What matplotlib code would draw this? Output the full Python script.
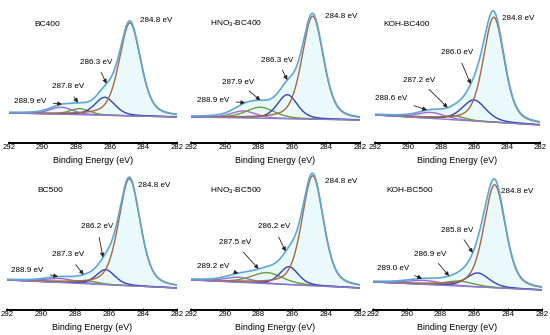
import numpy as np
import matplotlib
matplotlib.use('Agg')
import matplotlib.pyplot as plt

plt.rcParams['font.family'] = ['Liberation Sans', 'DejaVu Sans']
plt.rcParams['mathtext.default'] = 'regular'

# sample names, row by row
samples = ['BC400', 'HNO$_3$-BC400', 'KOH-BC400',
           'BC500', 'HNO$_3$-BC500', 'KOH-BC500']

# fitted C1s components: main C-C peak, then the three oxygenated ones
peak_centers = [[284.8, 286.3, 287.8, 288.9],
                [284.8, 286.3, 287.9, 288.9],
                [284.8, 286.0, 287.2, 288.6],
                [284.8, 286.2, 287.3, 288.9],
                [284.8, 286.2, 287.5, 289.2],
                [284.8, 285.8, 286.9, 289.0]]
peak_heights = [[93, 18, 6, 7],
                [103, 24, 11, 7],
                [105, 21, 4, 6],
                [107, 15, 3, 4],
                [110, 18, 11, 5],
                [103, 14, 5, 4]]
peak_fwhm = [[1.5, 1.4, 1.4, 1.6],
             [1.5, 1.4, 2.0, 1.7],
             [1.5, 1.7, 1.5, 1.9],
             [1.5, 1.3, 1.5, 2.1],
             [1.5, 1.3, 2.2, 1.9],
             [1.5, 1.6, 2.0, 2.4]]
# linear background at 292 eV and 282 eV
base_left = [30, 26, 28, 30, 30, 28]
base_right = [26, 23, 18, 22, 22, 20]

peak_labels = [['284.8 eV', '286.3 eV', '287.8 eV', '288.9 eV'],
               ['284.8 eV', '286.3 eV', '287.9 eV', '288.9 eV'],
               ['284.8 eV', '286.0 eV', '287.2 eV', '288.6 eV'],
               ['284.8 eV', '286.2 eV', '287.3 eV', '288.9 eV'],
               ['284.8 eV', '286.2 eV', '287.5 eV', '289.2 eV'],
               ['284.8 eV', '285.8 eV', '286.9 eV', '289.0 eV']]
# label anchor positions (energy, intensity) and arrow tip energies
main_label_xy = [(284.2, 122), (284.1, 126), (284.3, 125),
                 (284.3, 124), (284.1, 128), (284.4, 118)]
minor_label_xy = [[(286.8, 81), (288.5, 56), (290.75, 42)],
                  [(286.9, 83), (289.2, 61), (290.7, 43)],
                  [(287.0, 90), (289.3, 63), (291.0, 45)],
                  [(286.7, 83), (288.4, 55), (290.8, 40)],
                  [(287.1, 83), (289.4, 67), (290.7, 43)],
                  [(287.0, 80), (288.6, 56), (290.8, 42)]]
arrow_tips = [[286.2, 287.9, 288.85],
              [286.3, 287.9, 288.8],
              [286.2, 287.6, 288.85],
              [286.35, 287.5, 289.0],
              [286.4, 288.0, 289.2],
              [286.1, 287.5, 289.1]]
title_x = [290.5, 290.9, 291.5, 290.2, 290.9, 291.2]

peak_colors = ['#a8683c', '#3441c4', '#6c9c3c', '#a06cd0']
env_color = '#5fa6d8'
base_color = '#8c7cc4'

energy = np.linspace(292, 282, 600)


def peak(x, c, h, w, eta=0.4):
    # gaussian-lorentzian mix
    g = np.exp(-4 * np.log(2) * (x - c) ** 2 / w ** 2)
    lo = 1.0 / (1 + 4 * (x - c) ** 2 / w ** 2)
    return h * ((1 - eta) * g + eta * lo)


fig = plt.figure(figsize=(5.5, 3.35), dpi=100)
W, H = 550.0, 335.0
# axes pixel boxes: left, right, top, bottom
boxes = [(9, 177, 0, 143), (191, 360, 0, 143), (375, 540, 0, 143),
         (7, 177, 167, 310), (191, 360, 167, 310), (373, 542, 167, 310)]

for i in range(6):
    l, r, t, b = boxes[i]
    ax = fig.add_axes([l / W, 1 - b / H, (r - l) / W, (b - t) / H])
    bg = base_left[i] + (base_right[i] - base_left[i]) * (292 - energy) / 10.0
    comps = [peak(energy, c, h, w) for c, h, w in
             zip(peak_centers[i], peak_heights[i], peak_fwhm[i])]
    env = bg + sum(comps)
    ax.fill_between(energy, bg, env, color='#d2f3f8', alpha=0.45, lw=0)
    for k in [3, 2, 1, 0]:
        ax.plot(energy, bg + comps[k], color=peak_colors[k], lw=1.0)
    ax.plot(energy, bg, color=base_color, lw=1.0)
    ax.plot(energy, env, color=env_color, lw=1.2)

    ax.text(title_x[i], 119, samples[i], fontsize=6, ha='left', va='center')
    ax.text(main_label_xy[i][0], main_label_xy[i][1], peak_labels[i][0],
            fontsize=5.8, ha='left', va='center')
    for j in range(3):
        tx, ty = minor_label_xy[i][j]
        ex = arrow_tips[i][j]
        ey = np.interp(ex, energy[::-1], env[::-1])
        ax.annotate(peak_labels[i][j + 1], xy=(ex, ey), xytext=(tx, ty),
                    fontsize=5.8, ha='center', va='center',
                    arrowprops=dict(arrowstyle='-|>', color='#222222', lw=0.6,
                                    mutation_scale=6, shrinkA=3, shrinkB=0))

    ax.set_xlim(292, 282)
    ax.set_ylim(0, 143)
    ax.set_xticks([292, 290, 288, 286, 284, 282])
    ax.tick_params(axis='x', labelsize=5.6, length=1.5, width=0.6, pad=1,
                   direction='in')
    ax.set_yticks([])
    for s in ['left', 'right', 'top']:
        ax.spines[s].set_visible(False)
    ax.spines['bottom'].set_linewidth(1.4)
    ax.patch.set_alpha(0)
    ax.set_xlabel('Binding Energy (eV)', fontsize=6.4, labelpad=3)

fig.savefig('out.png', dpi=100)
